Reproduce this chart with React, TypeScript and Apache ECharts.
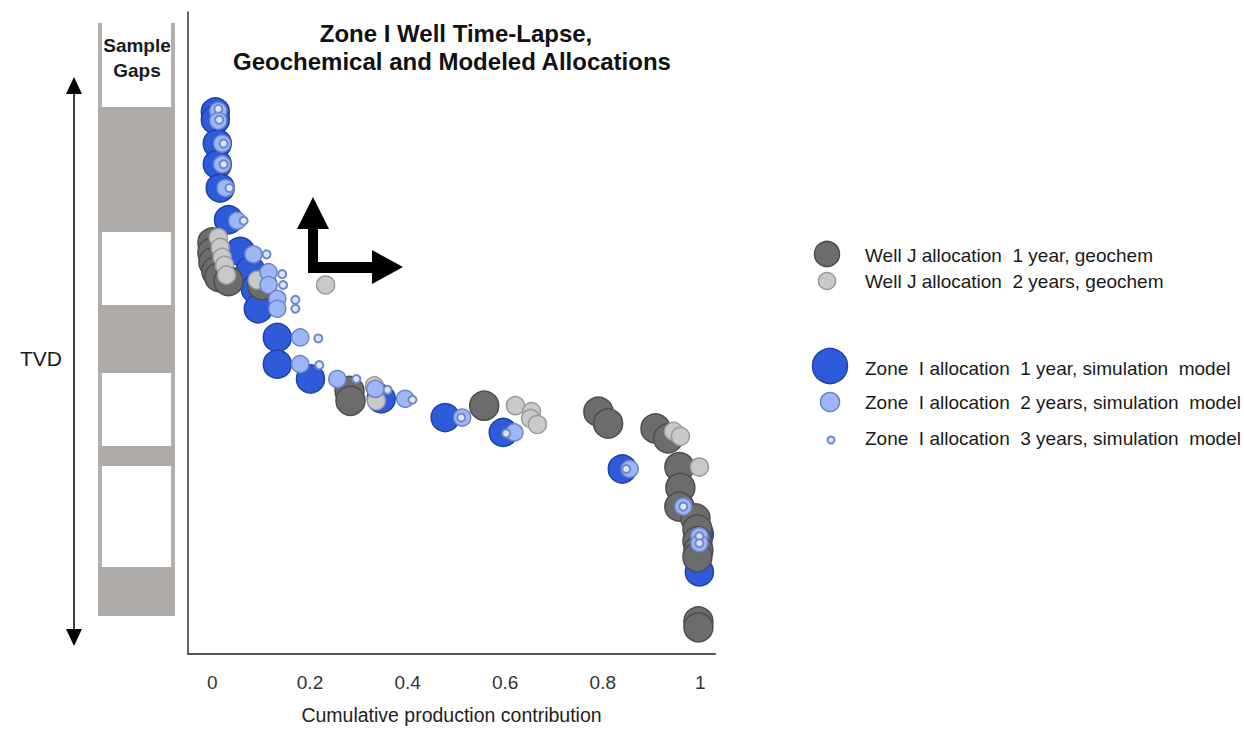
import React, { useEffect, useRef } from "react";
import * as echarts from "echarts";

// x: cumulative production contribution, y: relative TVD (0 = top of interval, 649 = base)
const xTickValues = [0, 0.2, 0.4, 0.6, 0.8, 1];

const sim1Year: number[][] = [
  [0.006, 101], [0.006, 109], [0.010, 133], [0.010, 154], [0.016, 178], [0.033, 210],
  [0.057, 242], [0.078, 261], [0.088, 280], [0.094, 300], [0.133, 329], [0.133, 356],
  [0.201, 371], [0.346, 391], [0.477, 410], [0.596, 425], [0.840, 462], [0.998, 528],
  [0.998, 566],
];

const geochem1Year: number[][] = [
  [0.000, 233], [0.000, 243], [0.002, 253], [0.008, 262], [0.014, 268], [0.033, 272],
  [0.102, 276], [0.281, 383], [0.283, 393], [0.557, 398], [0.791, 404], [0.811, 416],
  [0.908, 421], [0.934, 431], [0.957, 460], [0.959, 481], [0.957, 500], [0.990, 512],
  [0.994, 523], [0.994, 535], [0.996, 544], [0.994, 551], [0.996, 616], [0.996, 622],
];

const geochem2Years: number[][] = [
  [0.012, 228], [0.016, 238], [0.020, 248], [0.025, 256], [0.029, 266], [0.092, 271],
  [0.232, 276], [0.332, 378], [0.336, 393], [0.621, 398], [0.654, 404], [0.652, 411],
  [0.666, 417], [0.945, 424], [0.959, 429], [0.998, 460],
];

const sim2Years: number[][] = [
  [0.012, 100], [0.012, 110], [0.020, 133], [0.020, 154], [0.027, 178], [0.051, 211],
  [0.084, 245], [0.115, 263], [0.115, 276], [0.133, 290], [0.133, 300], [0.180, 329],
  [0.180, 356], [0.256, 371], [0.334, 381], [0.395, 391], [0.512, 410], [0.619, 425],
  [0.855, 462], [0.965, 500], [0.998, 530], [0.998, 537],
];

const sim3Years: number[][] = [
  [0.012, 98], [0.014, 109], [0.023, 133], [0.023, 154], [0.035, 178], [0.064, 211],
  [0.111, 245], [0.143, 265], [0.145, 276], [0.170, 291], [0.170, 300], [0.217, 330],
  [0.219, 357], [0.295, 371], [0.359, 382], [0.410, 392], [0.510, 410], [0.602, 426],
  [0.848, 462], [0.965, 500], [0.998, 530], [0.998, 537],
];

// sample gap intervals, in the same relative TVD units
const sampleGaps: number[][] = [
  [95, 220], [293, 361], [434, 454], [555, 604],
];

const legendLabels = [
  "Well J allocation  1 year, geochem",
  "Well J allocation  2 years, geochem",
  "Zone  I allocation  1 year, simulation  model",
  "Zone  I allocation  2 years, simulation  model",
  "Zone  I allocation  3 years, simulation  model",
];

const FONT = "'Liberation Sans', Arial, sans-serif";

const C = {
  sim1: { fill: "#2d5bd9", stroke: "#1e42a6" },
  sim2: { fill: "#9db7f6", stroke: "#6d86c8" },
  sim3: { fill: "#dbe5fa", stroke: "#6f88cc" },
  geo1: { fill: "#6c6c6c", stroke: "#4e4e4e" },
  geo2: { fill: "#c9c9c9", stroke: "#9b9b9b" },
};

export default function App() {
  const ref = useRef<HTMLDivElement>(null);

  useEffect(() => {
    if (!ref.current) return;
    const chart = echarts.init(ref.current, undefined, { renderer: "svg" });

    const depthAxis = (gridIndex: number, showLine: boolean) => ({
      type: "value" as const,
      gridIndex,
      min: 0,
      max: 649,
      inverse: true,
      axisLine: { show: showLine, onZero: false, lineStyle: { color: "#333", width: 1.5 } },
      axisTick: { show: false },
      axisLabel: { show: false },
      splitLine: { show: false },
    });

    const scatter = (name: string, data: number[][], size: number, col: { fill: string; stroke: string }, bw: number) => ({
      type: "scatter" as const,
      name,
      xAxisIndex: 0,
      yAxisIndex: 0,
      data,
      symbol: "circle",
      symbolSize: size,
      itemStyle: { color: col.fill, borderColor: col.stroke, borderWidth: bw, opacity: 1 },
      emphasis: { disabled: true },
    });

    const legendRows = [
      { cx: 827, cy: 254, r: 12.5, col: C.geo1, ty: 255 },
      { cx: 827, cy: 281, r: 8.5, col: C.geo2, ty: 281 },
      { cx: 830, cy: 366, r: 17.5, col: C.sim1, ty: 368 },
      { cx: 830, cy: 402, r: 9.5, col: C.sim2, ty: 402 },
      { cx: 831, cy: 440, r: 3.5, col: C.sim3, ty: 438 },
    ];

    const legendGraphics: any[] = [];
    legendRows.forEach((row, i) => {
      legendGraphics.push({
        type: "circle",
        shape: { cx: row.cx, cy: row.cy, r: row.r },
        style: { fill: row.col.fill, stroke: row.col.stroke, lineWidth: i === 4 ? 2 : 1.5 },
      });
      legendGraphics.push({
        type: "text",
        x: 865,
        y: row.ty,
        style: {
          text: legendLabels[i],
          font: `19px ${FONT}`,
          fill: "#1a1a1a",
          textVerticalAlign: "middle",
          textAlign: "left",
        },
      });
    });

    chart.setOption({
      animation: false,
      backgroundColor: "#ffffff",
      grid: [
        { left: 188, top: 12, right: 529, bottom: 69 },
        { left: 98, top: 12, width: 77, bottom: 69 },
      ],
      xAxis: [
        {
          type: "value",
          gridIndex: 0,
          min: -0.05,
          max: 1.03,
          axisLine: { show: true, onZero: false, lineStyle: { color: "#555", width: 2 } },
          axisTick: { show: false },
          splitLine: { show: false },
          axisLabel: {
            customValues: xTickValues,
            formatter: (v: number) => String(Math.round(v * 10) / 10),
            fontSize: 19,
            fontFamily: FONT,
            color: "#333",
            margin: 19,
          },
          name: "Cumulative production contribution",
          nameLocation: "middle",
          nameGap: 51,
          nameTextStyle: { fontSize: 19.5, fontFamily: FONT, color: "#222" },
        },
        {
          type: "value",
          gridIndex: 1,
          min: 0,
          max: 1,
          show: false,
        },
      ],
      yAxis: [depthAxis(0, true), depthAxis(1, false)],
      series: [
        {
          type: "custom",
          name: "Sample gaps",
          xAxisIndex: 1,
          yAxisIndex: 1,
          data: sampleGaps,
          encode: { y: [0, 1] },
          renderItem: (_p: any, api: any) => {
            const a = api.coord([0, api.value(0)]);
            const b = api.coord([1, api.value(1)]);
            return {
              type: "rect",
              shape: { x: a[0], y: a[1], width: b[0] - a[0], height: b[1] - a[1] },
              style: { fill: "#aeaaa7" },
            };
          },
          silent: true,
        },
        scatter(legendLabels[2], sim1Year, 28, C.sim1, 1.5),
        scatter(legendLabels[0], geochem1Year, 29, C.geo1, 1.5),
        scatter(legendLabels[1], geochem2Years, 18, C.geo2, 1.5),
        scatter(legendLabels[3], sim2Years, 17, C.sim2, 1.5),
        scatter(legendLabels[4], sim3Years, 8, C.sim3, 2),
      ],
      graphic: [
        // sample gap column borders
        { type: "rect", shape: { x: 98, y: 23, width: 4, height: 593 }, style: { fill: "#b3b0ae" } },
        { type: "rect", shape: { x: 171, y: 23, width: 4, height: 593 }, style: { fill: "#b3b0ae" } },
        {
          type: "text", x: 137, y: 45,
          style: { text: "Sample", font: `bold 19px ${FONT}`, fill: "#1a1a1a", textAlign: "center", textVerticalAlign: "middle" },
        },
        {
          type: "text", x: 137, y: 70,
          style: { text: "Gaps", font: `bold 19px ${FONT}`, fill: "#1a1a1a", textAlign: "center", textVerticalAlign: "middle" },
        },
        // TVD arrow
        { type: "line", shape: { x1: 74, y1: 92, x2: 74, y2: 632 }, style: { stroke: "#000", lineWidth: 1.5 } },
        { type: "polygon", shape: { points: [[74, 77], [66, 94], [82, 94]] }, style: { fill: "#000" } },
        { type: "polygon", shape: { points: [[74, 646], [66, 629], [82, 629]] }, style: { fill: "#000" } },
        {
          type: "text", x: 20, y: 358,
          style: { text: "TVD", font: `21px ${FONT}`, fill: "#1a1a1a", textAlign: "left", textVerticalAlign: "middle" },
        },
        // title
        {
          type: "text", x: 456, y: 33,
          style: { text: "Zone I Well Time-Lapse,", font: `bold 24px ${FONT}`, fill: "#111", textAlign: "center", textVerticalAlign: "middle" },
        },
        {
          type: "text", x: 452, y: 61,
          style: { text: "Geochemical and Modeled Allocations", font: `bold 24px ${FONT}`, fill: "#111", textAlign: "center", textVerticalAlign: "middle" },
        },
        // corner arrow
        {
          type: "polygon",
          shape: {
            points: [
              [308, 273], [308, 229], [297, 229], [313, 197], [329, 229], [318, 229],
              [318, 262], [372, 262], [372, 250], [403, 267], [372, 284], [372, 273],
            ],
          },
          style: { fill: "#000" },
        },
        ...legendGraphics,
      ],
    });

    return () => chart.dispose();
  }, []);

  return (
    <div
      ref={ref}
      style={{ position: "absolute", left: 0, top: 0, width: 1244, height: 730, background: "#fff" }}
    />
  );
}
